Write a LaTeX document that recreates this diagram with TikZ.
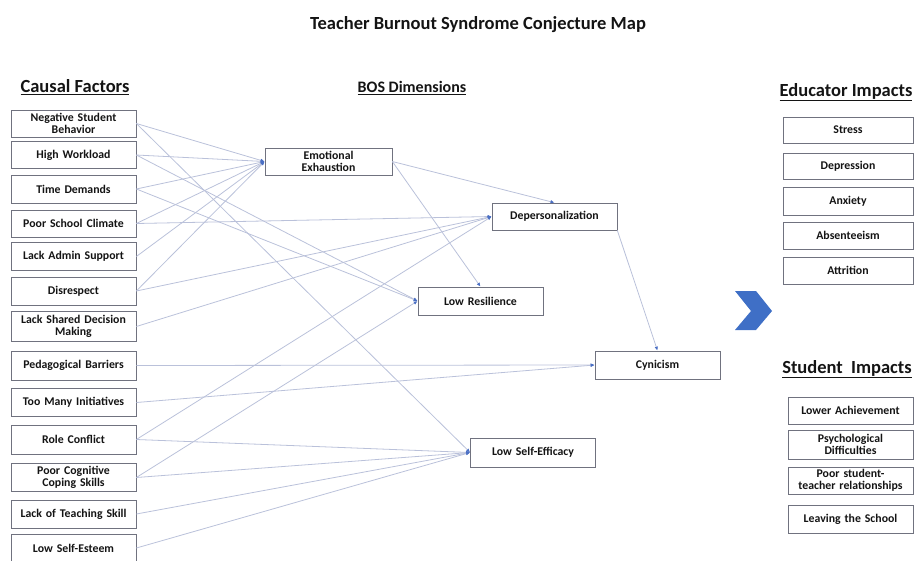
\documentclass[tikz,border=0pt]{standalone}
\usepackage{fontspec}
\setmainfont{Carlito}
\usetikzlibrary{arrows.meta}
\definecolor{connc}{HTML}{BAC1DA}
\definecolor{tipc}{HTML}{4A6FC4}
\definecolor{bordc}{HTML}{70727F}
\definecolor{chevc}{HTML}{3F6FC6}
\definecolor{txtc}{HTML}{141414}
\begin{document}
\begin{tikzpicture}[x=1pt,y=-1pt,
  cbox/.style={draw=bordc, line width=0.7pt, fill=white, inner sep=0.5pt, align=center,
    text width=123pt, minimum width=125pt, minimum height=28pt, text=txtc,
    font=\fontsize{11.8}{12.2}\selectfont\bfseries},
  rbox/.style={cbox, minimum width=130pt, text width=126pt},
  head/.style={text=txtc, font=\fontsize{18.5}{20}\selectfont\bfseries},
  link/.style={draw=connc, line width=0.8pt, -{Latex[length=4pt,width=3.5pt,color=tipc]}}]
\useasboundingbox (0,0) rectangle (915,560);
% titles
\node[head] (title) at (478,25) {Teacher Burnout Syndrome Conjecture Map};
\node[head] (hcf) at (75,87) {\underline{Causal Factors}};
\node[head, font=\fontsize{16}{18}\selectfont\bfseries] (hbos) at (412,88) {\underline{BOS Dimensions}};
\node[head] (hei) at (846,92) {\underline{Educator Impacts}};
\node[head] (hsi) at (847,369) {\underline{Student\ \ Impacts}};
% causal factors
\node[cbox, minimum height=27pt] (nsb) at (73.5,123.5) {Negative Student\\Behavior};
\node[cbox, minimum height=27pt] (hw) at (73.5,155) {High Workload};
\node[cbox] (td) at (73.5,189) {Time Demands};
\node[cbox, minimum height=27pt] (psc) at (73.5,223.5) {Poor School Climate};
\node[cbox] (las) at (73.5,256.5) {Lack Admin Support};
\node[cbox] (dis) at (73.5,291) {Disrespect};
\node[cbox, minimum height=30pt] (lsdm) at (73.5,326.5) {Lack Shared Decision\\Making};
\node[cbox, minimum height=29pt] (pb) at (73.5,365.5) {Pedagogical Barriers};
\node[cbox] (tmi) at (73.5,402.5) {Too Many Initiatives};
\node[cbox, minimum height=29pt] (rc) at (73.5,439.5) {Role Conflict};
\node[cbox] (pcc) at (73.5,477.5) {Poor Cognitive\\Coping Skills};
\node[cbox] (lts) at (73.5,514) {Lack of Teaching Skill};
\node[cbox, minimum height=27pt] (lse) at (73.5,548) {Low Self-Esteem};
% BOS dimensions
\node[cbox, minimum width=127pt, minimum height=27pt] (ee) at (328.5,161.5) {Emotional\\Exhaustion};
\node[cbox, minimum height=27pt] (dep) at (554.5,216.5) {Depersonalization};
\node[cbox] (lr) at (480.5,301) {Low Resilience};
\node[cbox] (cyn) at (657.5,365) {Cynicism};
\node[cbox, minimum height=29pt] (lsef) at (533,452.5) {Low Self-Efficacy};
% educator impacts
\node[rbox, minimum height=26pt] (stress) at (848,130) {Stress};
\node[rbox, minimum height=26pt] (depr) at (848,166) {Depression};
\node[rbox] (anx) at (848,201) {Anxiety};
\node[rbox, minimum height=27pt] (abs) at (848,235.5) {Absenteeism};
\node[rbox, minimum height=27pt] (att) at (848,270.5) {Attrition};
% student impacts
\node[cbox, minimum height=27pt] (la) at (850.5,410.5) {Lower Achievement};
\node[cbox, minimum height=29pt] (pd) at (850.5,444.5) {Psychological\\Difficulties};
\node[cbox, minimum height=27pt] (pstr) at (850.5,480.5) {Poor student-\\teacher relationships};
\node[cbox] (lts2) at (850.5,519) {Leaving the School};
% chevron
\fill[chevc] (735,291) -- (756,291) -- (772,311) -- (756,330) -- (735,330) -- (751,311) -- cycle;
% connectors
\foreach \s in {nsb,hw,td,psc,las,dis} \draw[link] (\s.east) -- (ee.west);
\foreach \s in {psc,dis,lsdm,rc} \draw[link] (\s.east) -- (dep.west);
\foreach \s in {hw,td,pcc} \draw[link] (\s.east) -- (lr.west);
\foreach \s in {pb,tmi} \draw[link] (\s.east) -- (cyn.west);
\foreach \s in {nsb,rc,pcc,lts,lse} \draw[link] (\s.east) -- (lsef.west);
\draw[link] (ee.east) -- (dep.north);
\draw[link] (ee.east) -- (lr.north);
\draw[link] (dep.south east) -- (cyn.north);
\end{tikzpicture}
\end{document}
